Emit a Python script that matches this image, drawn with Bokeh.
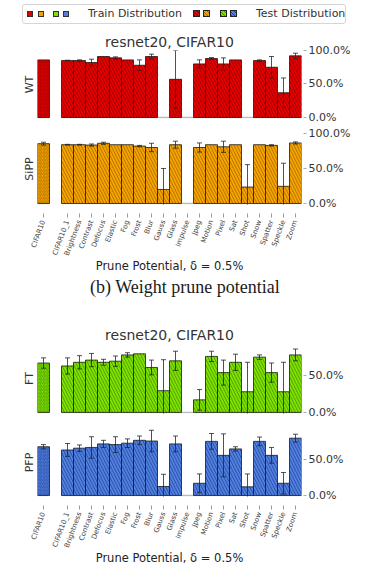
import math
from bokeh.plotting import figure
from bokeh.layouts import column
from bokeh.models import (Range1d, LinearAxis, FixedTicker, NumeralTickFormatter,
                          ColumnDataSource, Div)
from bokeh.embed import file_html
from bokeh.resources import INLINE

# ---------------- data ----------------
train_label = "CIFAR10"
test_labels = ["CIFAR10_1", "Brightness", "Contrast", "Defocus", "Elastic", "Fog",
               "Frost", "Blur", "Gauss", "Glass", "Impulse", "Jpeg", "Motion",
               "Pixel", "Sat", "Shot", "Snow", "Spatter", "Speckle", "Zoom"]

wt_train = 0.86
wt_train_err = 0.0
wt_test = [0.85, 0.85, 0.82, 0.91, 0.89, 0.86, 0.78, 0.91, 0.0, 0.57, 0.0, 0.80,
           0.88, 0.80, 0.86, 0.0, 0.85, 0.75, 0.37, 0.92]
wt_test_err = [0.005, 0.01, 0.05, 0.0, 0.015, 0.0, 0.08, 0.035, 0.0, 0.43, 0.0, 0.06,
               0.015, 0.09, 0.0, 0.0, 0.01, 0.16, 0.22, 0.04]

sipp_train = 0.855
sipp_train_err = 0.02
sipp_test = [0.84, 0.84, 0.835, 0.86, 0.84, 0.84, 0.82, 0.80, 0.20, 0.84, 0.0, 0.80,
             0.84, 0.81, 0.84, 0.235, 0.84, 0.83, 0.245, 0.865]
sipp_test_err = [0.005, 0.005, 0.015, 0.015, 0.0, 0.0, 0.01, 0.06, 0.30, 0.05, 0.0, 0.065,
                 0.0, 0.08, 0.0, 0.32, 0.0, 0.01, 0.33, 0.015]

ft_train = 0.67
ft_train_err = 0.07
ft_test = [0.63, 0.68, 0.71, 0.68, 0.695, 0.78, 0.795, 0.61, 0.295, 0.70, 0.0, 0.17,
           0.76, 0.54, 0.68, 0.28, 0.75, 0.54, 0.28, 0.78]
ft_test_err = [0.11, 0.09, 0.09, 0.04, 0.07, 0.03, 0.0, 0.10, 0.42, 0.13, 0.0, 0.14,
               0.07, 0.17, 0.11, 0.40, 0.03, 0.13, 0.40, 0.08]

pfp_train = 0.68
pfp_train_err = 0.03
pfp_test = [0.635, 0.66, 0.67, 0.72, 0.71, 0.73, 0.77, 0.76, 0.125, 0.72, 0.0, 0.17,
            0.755, 0.56, 0.65, 0.12, 0.755, 0.56, 0.17, 0.80]
pfp_test_err = [0.09, 0.045, 0.15, 0.05, 0.11, 0.06, 0.06, 0.15, 0.17, 0.11, 0.0, 0.13,
                0.11, 0.30, 0.03, 0.18, 0.06, 0.11, 0.15, 0.055]

upper_yticks = [0.0, 0.5, 1.0]
lower_yticks = [0.0, 0.5]

# ---------------- style ----------------
FONT = "DejaVu Sans"
TXT = "#333333"
W = 367
FRAME_L = 37
FRAME_R = 66
RED = ("#e30000", "#8f0000")
ORANGE = ("#f5a300", "#9a6200")
GREEN = ("#7fe000", "#3f8a00")
BLUE = ("#4f7fdf", "#233f8f")

train_x = 0
test_x = [i + 2 for i in range(len(test_labels))]
x_lo, x_hi = -0.5, test_x[-1] + 0.5


def panel(name, tr_v, tr_e, te_v, te_e, colors, ymax, yticks, height, top, bottom,
          xaxis=False, title=None):
    fill, hatch = colors
    ymin = -0.015
    p = figure(width=W, height=height, output_backend="svg", toolbar_location=None,
               x_range=Range1d(x_lo, x_hi), y_range=Range1d(ymin, ymax),
               x_axis_location="below" if xaxis else None, y_axis_location="right",
               min_border_left=FRAME_L, min_border_right=FRAME_R,
               min_border_top=top, min_border_bottom=bottom)
    p.outline_line_color = None
    p.grid.visible = False

    ya = p.right[0]
    ya.ticker = FixedTicker(ticks=yticks)
    ya.formatter = NumeralTickFormatter(format="0.0%")
    ya.axis_line_color = None
    ya.major_tick_in = -2
    ya.major_tick_out = 5
    ya.major_tick_line_color = "#aaaaaa"
    ya.minor_tick_in = 0
    ya.minor_tick_out = 0
    ya.major_label_standoff = 2
    ya.major_label_text_font = FONT
    ya.major_label_text_font_size = "11px"
    ya.major_label_text_color = TXT

    lab = LinearAxis(ticker=FixedTicker(ticks=[]), axis_label=name,
                     axis_line_color=None, major_tick_out=0, major_tick_in=0,
                     minor_tick_out=0, minor_tick_in=0, major_label_standoff=0,
                     axis_label_standoff=2, axis_label_text_font=FONT,
                     axis_label_text_font_size="11px", axis_label_text_font_style="normal",
                     axis_label_text_color=TXT)
    p.add_layout(lab, "left")

    if title:
        p.title.text = title
        p.title.align = "center"
        p.title.text_font = FONT
        p.title.text_font_size = "14px"
        p.title.text_font_style = "normal"
        p.title.text_color = TXT
        p.title.standoff = 2

    # baseline spines (light gray)
    p.segment(x0=[train_x - 0.5, test_x[0] - 0.5], x1=[train_x + 0.5, test_x[-1] + 0.5],
              y0=[0, 0], y1=[0, 0], line_color="#bbbbbb", line_width=1.5)

    # train bar
    p.vbar(x=[train_x], top=[tr_v], bottom=0, width=1.0, fill_color=fill,
           line_color="#1a1a1a", line_width=0.8, hatch_pattern="/",
           hatch_color=hatch, hatch_scale=3.5, hatch_weight=0.7)

    # test bars
    xs = [x for x, v in zip(test_x, te_v) if v > 0]
    vs = [v for v in te_v if v > 0]
    p.vbar(x=xs, top=vs, bottom=0, width=1.0, fill_color=fill,
           line_color="#1a1a1a", line_width=0.8, hatch_pattern="\\",
           hatch_color=hatch, hatch_scale=6, hatch_weight=0.7)

    # error bars
    ex, lo, hi = [], [], []
    for x, v, e in zip([train_x] + test_x, [tr_v] + te_v, [tr_e] + te_e):
        if v > 0 and e > 0:
            ex.append(x)
            lo.append(v - e)
            hi.append(v + e)
    src = ColumnDataSource(dict(x=ex, lo=lo, hi=hi))
    p.segment(x0="x", x1="x", y0="lo", y1="hi", source=src, line_color="#262626",
              line_alpha=0.8, line_width=1)
    p.scatter(x="x", y="hi", source=src, marker="dash", size=5, line_color="#262626",
              line_alpha=0.8, line_width=1)
    p.scatter(x="x", y="lo", source=src, marker="dash", size=5, line_color="#262626",
              line_alpha=0.8, line_width=1)

    if xaxis:
        xa = p.below[0]
        ticks = [train_x] + test_x
        xa.ticker = FixedTicker(ticks=ticks)
        xa.major_label_overrides = {t: l for t, l in zip(ticks, [train_label] + test_labels)}
        xa.major_label_orientation = math.radians(70)
        xa.major_label_text_font = FONT
        xa.major_label_text_font_size = "7px"
        xa.major_label_text_color = "#444444"
        xa.axis_line_color = None
        xa.major_tick_in = -9
        xa.major_tick_out = 13
        xa.major_tick_line_color = "#999999"
        xa.minor_tick_in = 0
        xa.minor_tick_out = 0
        xa.major_label_standoff = 3
        xa.axis_label = "Prune Potential, δ = 0.5%"
        xa.axis_label_text_font = FONT
        xa.axis_label_text_font_size = "11.5px"
        xa.axis_label_text_font_style = "normal"
        xa.axis_label_text_color = "#222222"
        xa.axis_label_standoff = -2
    return p


# ---------------- legend strip (HTML) ----------------
palette = [RED, ORANGE, GREEN, BLUE]
solid_left = [27, 38, 53, 63]
hatch_left = [193, 203, 220, 230]
parts = ['<div style="position:relative;width:367px;height:28px;margin:0;padding:0;'
         'font-family:\'DejaVu Sans\';font-size:11px;color:#333;">',
         '<div style="position:absolute;left:22px;top:4px;width:324px;height:20px;'
         'box-sizing:border-box;border:1px solid #d6d6d6;border-radius:3px;'
         'background:#fff;"></div>']
for lft, (fc, hc) in zip(solid_left, palette):
    parts.append(f'<div style="position:absolute;left:{lft}px;top:11px;width:6px;height:6px;'
                 f'box-sizing:border-box;border:0.7px solid #333;background:{fc};"></div>')
for lft, (fc, hc) in zip(hatch_left, palette):
    parts.append(f'<div style="position:absolute;left:{lft}px;top:10px;width:7px;height:7px;'
                 f'box-sizing:border-box;border:0.8px solid #222;'
                 f'background:repeating-linear-gradient(45deg,{hc} 0px,{hc} 0.8px,'
                 f'{fc} 0.8px,{fc} 2.6px);"></div>')
parts.append('<div style="position:absolute;left:88px;top:6px;line-height:16px;'
             'white-space:nowrap;">Train Distribution</div>')
parts.append('<div style="position:absolute;left:256px;top:6px;line-height:16px;'
             'white-space:nowrap;">Test Distribution</div>')
parts.append('</div>')
legend_div = Div(text="".join(parts), width=W, height=28, margin=(0, 0, 0, 0))

caption_div = Div(
    text=('<div style="position:relative;width:367px;height:24px;margin:0;padding:0;">'
          '<div style="position:absolute;left:90px;top:0px;line-height:22px;'
          'font-family:\'Liberation Serif\';font-size:18px;color:#1a1a1a;'
          'white-space:nowrap;">(b) Weight prune potential</div></div>'),
    width=W, height=24, margin=(0, 0, 0, 0))

wt = panel("WT", wt_train, wt_train_err, wt_test, wt_test_err, RED, 1.0, upper_yticks,
           height=98, top=22, bottom=8, title="resnet20, CIFAR10")
sipp = panel("SiPP", sipp_train, sipp_train_err, sipp_test, sipp_test_err, ORANGE, 1.0,
             upper_yticks, height=150, top=7, bottom=72, xaxis=True)
ft = panel("FT", ft_train, ft_train_err, ft_test, ft_test_err, GREEN, 0.935, lower_yticks,
           height=118, top=43, bottom=5, title="resnet20, CIFAR10")
pfp = panel("PFP", pfp_train, pfp_train_err, pfp_test, pfp_test_err, BLUE, 0.935,
            lower_yticks, height=151, top=10, bottom=73, xaxis=True)

layout = column(legend_div, wt, sipp, caption_div, ft, pfp, spacing=0)
open("out.html", "w").write(file_html(layout, INLINE))
